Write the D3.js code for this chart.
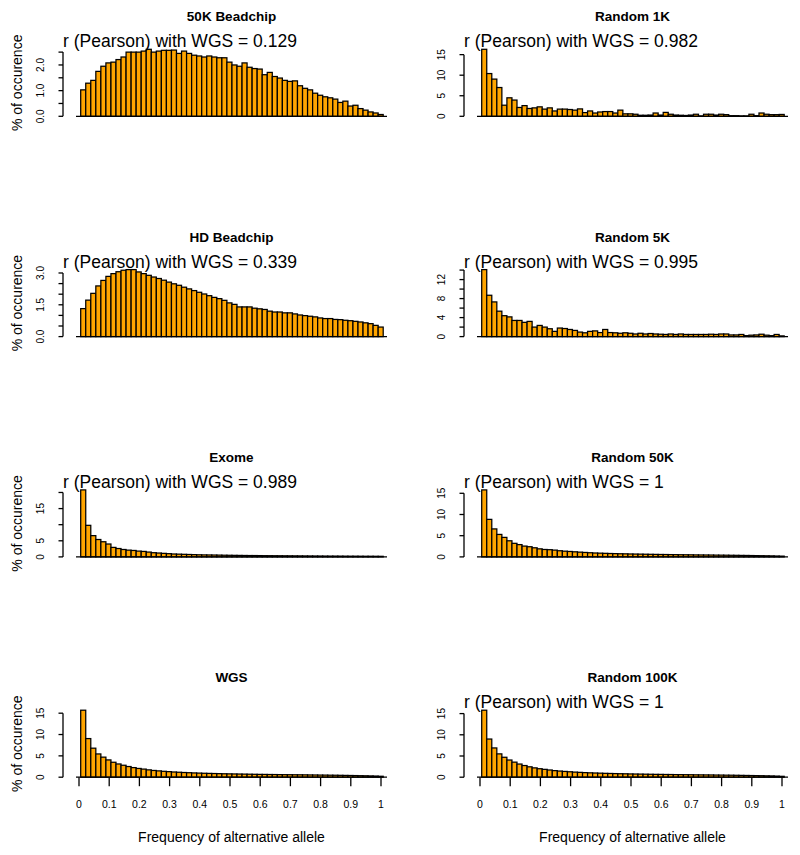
<!DOCTYPE html>
<html><head><meta charset="utf-8">
<script src="https://cdn.jsdelivr.net/npm/d3@7"></script>
<style>
body{margin:0;background:#fff}
text{font-family:"Liberation Sans",Arial,Helvetica,sans-serif;fill:#000}
</style>
</head><body>
<svg id="chart" width="800" height="855"></svg>
<script>
// ---------- data ----------
const panelTitles = ["50K Beadchip","HD Beadchip","Exome","WGS","Random 1K","Random 5K","Random 50K","Random 100K"];
const pearsonLabels = ["r (Pearson) with WGS = 0.129","r (Pearson) with WGS = 0.339","r (Pearson) with WGS = 0.989","",
  "r (Pearson) with WGS = 0.982","r (Pearson) with WGS = 0.995","r (Pearson) with WGS = 1","r (Pearson) with WGS = 1"];

const beadchip50K = [1.03,1.29,1.40,1.75,1.95,2.08,2.11,2.21,2.31,2.50,2.50,2.50,2.54,2.61,2.50,2.54,2.57,2.57,2.58,2.45,
  2.54,2.45,2.38,2.35,2.31,2.35,2.31,2.28,2.28,2.11,2.00,1.95,2.08,1.91,1.86,1.84,1.62,1.71,1.55,1.49,
  1.40,1.36,1.38,1.19,1.09,1.03,0.90,0.82,0.76,0.72,0.67,0.54,0.59,0.40,0.43,0.30,0.24,0.17,0.13,0.07];
const beadchipHD = [1.32,1.72,2.04,2.39,2.65,2.84,2.97,3.06,3.13,3.16,3.16,3.05,2.97,2.89,2.81,2.74,2.66,2.57,2.49,2.42,
  2.33,2.25,2.17,2.09,2.01,1.93,1.85,1.79,1.71,1.59,1.52,1.40,1.40,1.40,1.34,1.31,1.28,1.20,1.16,1.16,
  1.12,1.12,1.07,1.02,0.99,0.96,0.93,0.88,0.85,0.85,0.81,0.80,0.77,0.75,0.72,0.69,0.65,0.61,0.53,0.45];
const exome = [20.8,9.8,6.6,5.4,4.7,4.0,2.95,2.6,2.3,2.1,2.0,1.8,1.7,1.5,1.3,1.2,1.1,1.0,0.9,0.85,
  0.8,0.75,0.7,0.65,0.62,0.6,0.58,0.55,0.52,0.5,0.48,0.46,0.44,0.42,0.42,0.4,0.38,0.37,0.36,0.35,
  0.34,0.33,0.32,0.31,0.3,0.29,0.28,0.27,0.26,0.25,0.25,0.24,0.23,0.22,0.22,0.21,0.2,0.2,0.19,0.18];
const wgs = [15.7,9.05,6.8,5.45,4.7,4.05,3.5,3.1,2.8,2.5,2.25,2.05,1.9,1.72,1.58,1.48,1.38,1.3,1.22,1.16,
  1.1,1.05,1.0,0.96,0.92,0.89,0.86,0.83,0.8,0.78,0.76,0.74,0.72,0.7,0.68,0.66,0.65,0.63,0.62,0.6,
  0.59,0.58,0.57,0.56,0.55,0.53,0.52,0.5,0.49,0.47,0.46,0.44,0.42,0.4,0.38,0.35,0.33,0.3,0.27,0.22];
const random1K = [16.3,10.4,9.05,7.0,2.7,4.5,3.95,2.15,2.6,1.9,2.05,2.3,1.75,2.05,1.3,1.75,1.75,1.65,1.5,1.8,
  0.9,1.3,0.8,1.05,1.15,1.15,0.8,1.5,0.6,0.6,0.5,0.25,0.25,0.3,0.8,0.3,0.95,0.5,0.3,0.25,
  0.2,0.3,0.5,0.1,0.5,0.5,0.3,0.5,0.4,0.15,0.15,0.1,0.1,0.5,0.15,0.8,0.5,0.4,0.4,0.45];
const random5K = [14.1,8.7,7.3,5.35,4.4,4.15,3.4,3.4,3.0,3.2,2.0,2.35,2.0,1.65,1.1,1.8,1.7,1.5,1.3,0.95,
  0.8,1.1,1.2,0.85,1.5,0.85,0.8,0.7,0.8,0.7,0.55,0.7,0.55,0.65,0.55,0.5,0.45,0.55,0.45,0.55,
  0.45,0.45,0.45,0.45,0.45,0.5,0.45,0.55,0.55,0.35,0.35,0.45,0.2,0.3,0.35,0.5,0.3,0.2,0.45,0.15];
const random50K = [15.8,8.85,6.6,5.3,4.6,3.8,3.2,2.9,2.55,2.4,2.15,1.9,1.75,1.7,1.6,1.45,1.35,1.28,1.2,1.12,
  1.05,0.98,0.92,0.88,0.84,0.8,0.77,0.74,0.72,0.69,0.67,0.65,0.63,0.61,0.59,0.57,0.56,0.54,0.53,0.51,
  0.5,0.49,0.47,0.46,0.45,0.44,0.42,0.41,0.4,0.38,0.37,0.35,0.34,0.32,0.3,0.28,0.26,0.24,0.21,0.18];
const random100K = [15.8,9.0,6.9,5.5,4.7,4.05,3.55,3.1,2.75,2.45,2.2,2.0,1.85,1.7,1.55,1.45,1.36,1.28,1.2,1.14,
  1.08,1.03,0.99,0.95,0.91,0.88,0.85,0.82,0.8,0.77,0.75,0.73,0.71,0.69,0.67,0.66,0.64,0.63,0.61,0.6,
  0.59,0.58,0.56,0.55,0.54,0.53,0.51,0.5,0.48,0.47,0.45,0.43,0.41,0.39,0.37,0.35,0.32,0.3,0.26,0.21];

const yTicks50K = [0,0.5,1,1.5,2,2.5],        yLabels50K = ["0.0","","1.0","","2.0",""];
const yTicksHD = [0,0.5,1,1.5,2,2.5,3],       yLabelsHD = ["0.0","","","1.5","","","3.0"];
const yTicksExome = [0,5,10,15,20],           yLabelsExome = ["0","5","","15",""];
const yTicksWGS = [0,5,10,15],                yLabelsWGS = ["0","5","10","15"];
const yTicks1K = [0,5,10,15],                 yLabels1K = ["0","5","10","15"];
const yTicks5K = [0,2,4,6,8,10,12,14],        yLabels5K = ["0","","4","","8","","12",""];
const yTicks50KR = [0,5,10,15],               yLabels50KR = ["0","5","10","15"];
const yTicks100K = [0,5,10,15],               yLabels100K = ["0","5","10","15"];

const xTicks = [0,0.1,0.2,0.3,0.4,0.5,0.6,0.7,0.8,0.9,1];
const xTickLabels = ["0","0.1","0.2","0.3","0.4","0.5","0.6","0.7","0.8","0.9","1"];
const xAxisTitle = "Frequency of alternative allele";
const yAxisTitle = "% of occurence";

// ---------- build panels ----------
const seriesList = [beadchip50K, beadchipHD, exome, wgs, random1K, random5K, random50K, random100K];
const tickList = [yTicks50K, yTicksHD, yTicksExome, yTicksWGS, yTicks1K, yTicks5K, yTicks50KR, yTicks100K];
const tickLabelList = [yLabels50K, yLabelsHD, yLabelsExome, yLabelsWGS, yLabels1K, yLabels5K, yLabels50KR, yLabels100K];

const svg = d3.select("#chart");
const colOffset = 401, rowStep = 220.3, baseY0 = 116.3, plotH = 67;

seriesList.forEach((vals, p) => {
  const col = Math.floor(p / 4), row = p % 4;
  const ox = col * colOffset;
  const base = baseY0 + row * rowStep;
  const g = svg.append("g").attr("transform", `translate(${ox},0)`);

  const xBand = d3.scaleBand().domain(d3.range(vals.length)).range([80.7, 383.2]).paddingInner(0).paddingOuter(0);
  const xLin = d3.scaleLinear().domain([0, 1]).range([79, 381]);
  const y = d3.scaleLinear().domain([0, d3.max(vals)]).range([base, base - plotH]);

  // bars
  g.append("g").selectAll("rect").data(vals).join("rect")
    .attr("x", (d, i) => xBand(i))
    .attr("y", d => y(d))
    .attr("width", xBand.bandwidth())
    .attr("height", d => base - y(d))
    .attr("fill", "#FFA500")
    .attr("stroke", "#000")
    .attr("stroke-width", 1.25);

  // horizontal base line
  g.append("line").attr("x1", 76).attr("x2", 387).attr("y1", base).attr("y2", base)
    .attr("stroke", "#000").attr("stroke-width", 1.3);

  // y axis
  const ticks = tickList[p], labels = tickLabelList[p];
  const ax = 63;
  g.append("line").attr("x1", ax).attr("x2", ax).attr("y1", y(0)).attr("y2", y(d3.max(ticks)))
    .attr("stroke", "#000").attr("stroke-width", 1.3);
  g.append("g").selectAll("line").data(ticks).join("line")
    .attr("x1", ax - 4.5).attr("x2", ax).attr("y1", d => y(d)).attr("y2", d => y(d))
    .attr("stroke", "#000").attr("stroke-width", 1.3);
  g.append("g").selectAll("text").data(ticks).join("text")
    .attr("transform", d => `translate(44,${y(d)}) rotate(-90)`)
    .attr("text-anchor", "middle")
    .style("font-size", "10px")
    .attr("fill", "#222")
    .text((d, i) => labels[i]);

  // titles
  g.append("text").attr("x", 231.5).attr("y", base - 95)
    .attr("text-anchor", "middle").style("font-size", "13.5px").style("font-weight", "bold")
    .text(panelTitles[p]);
  if (pearsonLabels[p]) {
    g.append("text").attr("x", 63).attr("y", base - 69)
      .style("font-size", "17.5px").text(pearsonLabels[p]);
  }

  // y axis title (left column)
  if (col === 0) {
    g.append("text").attr("transform", `translate(22,${base - 33.5}) rotate(-90)`)
      .attr("text-anchor", "middle").style("font-size", "14px").text(yAxisTitle);
  }

  // x axis (bottom row)
  if (row === 3) {
    g.append("g").selectAll("line").data(xTicks).join("line")
      .attr("x1", d => xLin(d)).attr("x2", d => xLin(d))
      .attr("y1", base).attr("y2", base + 9)
      .attr("stroke", "#000").attr("stroke-width", 1.3);
    g.append("g").selectAll("text").data(xTicks).join("text")
      .attr("x", d => xLin(d)).attr("y", base + 30.5)
      .attr("text-anchor", "middle").style("font-size", "10.5px").attr("fill", "#222")
      .text((d, i) => xTickLabels[i]);
    g.append("text").attr("x", 231.5).attr("y", base + 64.5)
      .attr("text-anchor", "middle").style("font-size", "14px").text(xAxisTitle);
  }
});
</script>
</body></html>
